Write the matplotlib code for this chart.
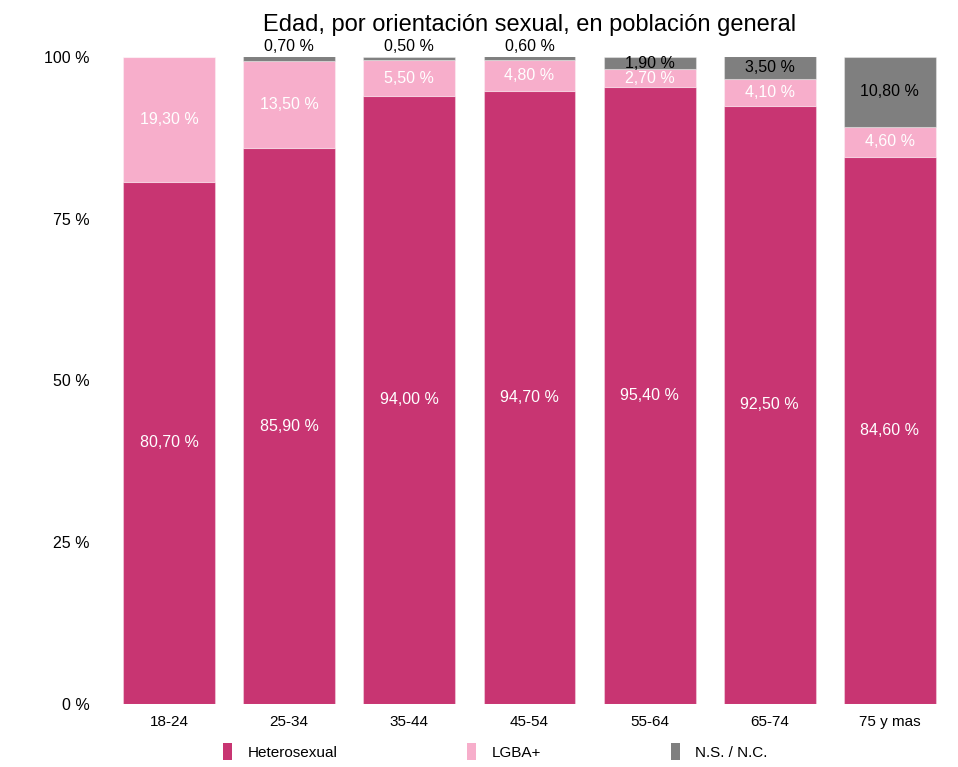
import numpy as np
import matplotlib.pyplot as plt
from matplotlib.patches import Patch

# ----------------------------------------------------
# Data
# ----------------------------------------------------

ages = ["18-24", "25-34", "35-44", "45-54", "55-64", "65-74", "75 y mas"]

hetero = [80.7, 85.9, 94.0, 94.7, 95.4, 92.5, 84.6]
lgba = [19.3, 13.5, 5.5, 4.8, 2.7, 4.1, 4.6]
ns_nc = [0.0, 0.7, 0.5, 0.6, 1.9, 3.5, 10.8]

series_names = ["Heterosexual", "LGBA+", "N.S. / N.C."]
colors = ["#C83572", "#F7AECB", "#7F7F7F"]
text_colors = ["white", "white", "black"]

plt.rcParams["font.family"] = ["Liberation Sans", "DejaVu Sans"]


def fmt(v):
    return f"{v:.2f}".replace(".", ",") + " %"


# ----------------------------------------------------
# Figure
# ----------------------------------------------------

fig = plt.figure(figsize=(9.58, 7.67), dpi=100)
ax = fig.add_axes([109 / 958, 63 / 767, 841 / 958, 647 / 767])

x = np.arange(len(ages))
width = 0.765
bottom = np.zeros(len(ages))

for vals, name, col, tcol in zip([hetero, lgba, ns_nc], series_names,
                                 colors, text_colors):
    vals = np.array(vals)
    ax.bar(x, vals, width, bottom=bottom, color=col,
           edgecolor=(1, 1, 1, 0.35), linewidth=0.8, label=name)
    for xi, b, v in zip(x, bottom, vals):
        if v <= 0:
            continue
        if v < 1.0:
            # tiny segment -> label above the bar
            ax.text(xi, b + v + 0.4, fmt(v), ha="center", va="bottom",
                    color="black", fontsize=11.5)
        else:
            ax.text(xi, b + v / 2, fmt(v), ha="center", va="center",
                    color=tcol, fontsize=11.5)
    bottom += vals

ax.set_xlim(-0.5, len(ages) - 0.5)
ax.set_ylim(0, 100)
ax.set_xticks(x)
ax.set_xticklabels(ages, fontsize=11)
ax.set_yticks([0, 25, 50, 75, 100])
ax.set_yticklabels(["0 %", "25 %", "50 %", "75 %", "100 %"], fontsize=11.5)
ax.tick_params(axis="both", length=0)
ax.tick_params(axis="y", pad=14)
ax.tick_params(axis="x", pad=8)

for s in ax.spines.values():
    s.set_visible(False)

ax.set_title("Edad, por orientación sexual, en población general",
             fontsize=17, pad=19)

handles = [Patch(facecolor=c, edgecolor="none") for c in colors]
fig.legend(handles, series_names, loc="center", bbox_to_anchor=(0.517, 0.02),
           ncol=3, frameon=False, fontsize=11,
           handlelength=0.6, handleheight=1.3, handletextpad=1.0,
           columnspacing=8.5)

fig.savefig("out.png", dpi=100)
